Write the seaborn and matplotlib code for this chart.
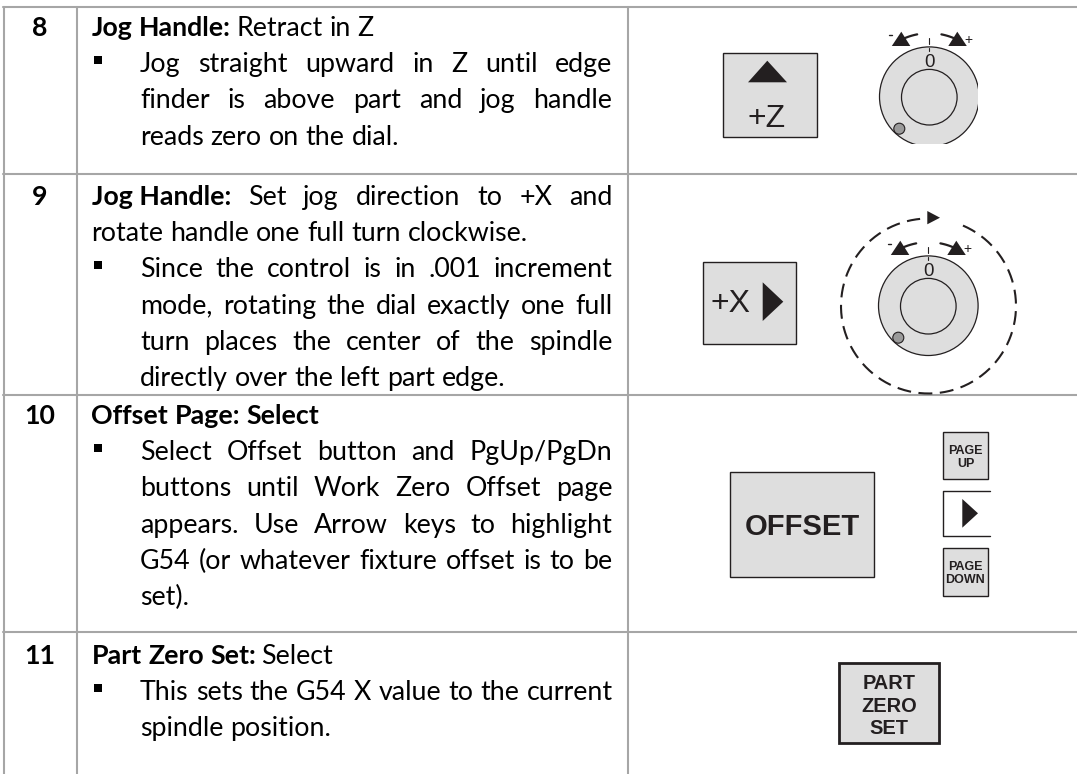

# Step table from a machining setup sheet: text on the left, control panel keys on the right.
import numpy as np
import pandas as pd
import matplotlib
matplotlib.use('Agg')
import matplotlib.pyplot as plt
from matplotlib.patches import Rectangle, Circle, Polygon
import seaborn as sns

# TABLE TEXT:
step_labels = ['8', '9', '10', '11']
heading_bold = ['Jog Handle:', 'Jog Handle:', 'Offset Page: Select', 'Part Zero Set:']
heading_rest = [' Retract in Z', ' Set jog direction to +X and', '', ' Select']
heading_more = [[], ['rotate handle one full turn clockwise.'], [], []]
bullet_lines = [
    ['Jog straight upward in Z until edge', 'finder is above part and jog handle', 'reads zero on the dial.'],
    ['Since the control is in .001 increment', 'mode, rotating the dial exactly one full',
     'turn places the center of the spindle', 'directly over the left part edge.'],
    ['Select Offset button and PgUp/PgDn', 'buttons until Work Zero Offset page',
     'appears. Use Arrow keys to highlight', 'G54 (or whatever fixture offset is to be', 'set).'],
    ['This sets the G54 X value to the current', 'spindle position.'],
]

# layout in pixels of the picture
row_rules = [7, 174, 394.7, 631.7]
col_rules = [3.5, 77, 628]
step_baselines = [36, 205, 424, 664]
line_gap = 36.2
GREY_RULE = '#a6a6a6'
KEY_FILL = '#dedede'
INK = '#231f20'
BODY_SIZE = 19.3

sns.set_theme(style='white')
plt.rcParams['font.family'] = ['Lato', 'DejaVu Sans']
fig = plt.figure(figsize=(10.77, 7.74), dpi=100)
ax = fig.add_axes([0, 0, 1, 1])

# TABLE RULES:
rules = []
for i, y in enumerate(row_rules):
    rules.append(pd.DataFrame({'x': [col_rules[0] - 1, 1077], 'y': [y, y], 'rule': f'h{i}'}))
for i, x in enumerate(col_rules):
    rules.append(pd.DataFrame({'x': [x, x], 'y': [row_rules[0], 774], 'rule': f'v{i}'}))
rules = pd.concat(rules)
sns.lineplot(data=rules, x='x', y='y', units='rule', estimator=None, sort=False,
             color=GREY_RULE, linewidth=1.5, ax=ax, legend=False)
ax.set_xlim(0, 1077)
ax.set_ylim(774, 0)
ax.axis('off')

renderer = fig.canvas.get_renderer()


def text_width(s, weight='normal'):
    t = ax.text(0, 0, s, fontsize=BODY_SIZE, fontweight=weight)
    w = t.get_window_extent(renderer).width
    t.remove()
    return w


def body_line(s, x0, x1, y, weight='normal', justify=True):
    """draw a line word by word, spreading the gaps when it is justified"""
    words = s.split()
    widths = [text_width(w, weight) for w in words]
    if justify and len(words) > 1:
        gap = (x1 - x0 - sum(widths)) / (len(words) - 1)
    else:
        gap = text_width('a a', weight) - text_width('aa', weight)
    x = x0
    for w, ww in zip(words, widths):
        ax.text(x, y, w, fontsize=BODY_SIZE, fontweight=weight, color='black', va='baseline')
        x += ww + gap
    return x - gap


TEXT_LEFT = 91.5
BULLET_LEFT = 140
TEXT_RIGHT = 612.5

for i, label in enumerate(step_labels):
    y = step_baselines[i]
    ax.text(39.5, y, label, fontsize=BODY_SIZE, fontweight='bold', color='black', ha='center', va='baseline')
    if i == 1:
        # bold part and regular part share one justified line
        bw = text_width(heading_bold[i], 'bold')
        ax.text(TEXT_LEFT, y, heading_bold[i], fontsize=BODY_SIZE, fontweight='bold', color='black')
        ax_words = heading_rest[i].split()
        ww = [text_width(w) for w in ax_words]
        gap = (TEXT_RIGHT - TEXT_LEFT - bw - sum(ww)) / len(ax_words)
        x = TEXT_LEFT + bw + gap
        for w, wd in zip(ax_words, ww):
            ax.text(x, y, w, fontsize=BODY_SIZE, color='black')
            x += wd + gap
    else:
        end = body_line(heading_bold[i], TEXT_LEFT, TEXT_RIGHT, y, 'bold', justify=False)
        if heading_rest[i]:
            body_line(heading_rest[i], end + 5.5, TEXT_RIGHT, y, justify=False)
    n = 1
    for s in heading_more[i]:
        body_line(s, TEXT_LEFT, TEXT_RIGHT, y + n * line_gap, justify=False)
        n += 1
    for j, s in enumerate(bullet_lines[i]):
        ly = y + n * line_gap
        last = j == len(bullet_lines[i]) - 1
        if j == 0:
            ax.add_patch(Rectangle((93.5, ly - 16), 8, 8, fc='black', ec='none'))
        body_line(s, BULLET_LEFT, TEXT_RIGHT, ly, justify=not last)
        n += 1


# CONTROL PANEL KEYS:
def key(x0, y0, x1, y1, fill=KEY_FILL, lw=1.0):
    ax.add_patch(Rectangle((x0, y0), x1 - x0, y1 - y0, fc=fill, ec=INK, lw=lw))


def tri(*pts):
    ax.add_patch(Polygon(pts, closed=True, fc=INK, ec='none'))


def key_text(x, y, s, size, weight='normal'):
    ax.text(x, y, s, fontsize=size, fontweight=weight, color=INK, ha='center', va='baseline',
            family='Liberation Sans')


def dial(cx, cy, clip=None):
    clip_box = None
    if clip:
        clip_box = Rectangle((cx - 60, cy - 60), clip[0] - cx + 60, clip[1] - cy + 60, transform=ax.transData)
    parts = [Circle((cx, cy), 49.8, fc=KEY_FILL, ec=INK, lw=0.9),
             Circle((cx, cy + 0.5), 27.8, fc=KEY_FILL, ec=INK, lw=0.9)]
    for p in parts:
        ax.add_patch(p)
        if clip_box is not None:
            p.set_clip_path(clip_box)
    ax.add_patch(Circle((cx - 30, cy + 32), 5.5, fc='#9a9a9a', ec=INK, lw=0.8))
    ax.plot([cx, cx], [cy - 59, cy - 52.5], color=INK, lw=0.8)
    ax.plot([cx, cx], [cy - 49, cy - 46], color=INK, lw=0.8)
    key_text(cx, cy - 30, '0', 13.4)
    # little arrows over the dial
    for sign in (-1, 1):
        t = np.radians(np.linspace(11, 24, 12))
        ax.plot(cx + sign * 63.5 * np.sin(t), cy - 63.5 * np.cos(t), color=INK, lw=1.6)
        tri((cx + sign * 28, cy - 65), (cx + sign * 19, cy - 50.7), (cx + sign * 37.5, cy - 50.7))
    ax.plot([cx - 40, cx - 37], [cy - 62, cy - 62], color=INK, lw=1)
    key_text(cx + 39.5, cy - 52.5, '+', 10)


# row 8
key(722.7, 53.3, 816.7, 137.3)
tri((748, 82.3), (787, 82.3), (767.3, 60.7))
key_text(766.7, 126.7, '+Z', 23)
dial(929.3, 96.7, clip=(977.7, 144.3))

# row 9
key(703.3, 261.7, 796, 344.3)
key_text(730, 311.7, '+X', 23)
tri((762.7, 282.3), (762.7, 321), (783.3, 301.7))
dial(928.3, 305.7)
t = np.radians(np.linspace(-66.8, 264.5, 400))
ax.plot(928.5 + 87.5 * np.cos(t), 306 + 87.5 * np.sin(t), color=INK, lw=1.5,
        linestyle=(0, (6.68, 3.6)))
tri((927.3, 211), (927.3, 224.3), (940, 217.7))

# row 10
key(730.3, 472, 874, 576.7)
key_text(802, 535, 'OFFSET', 21, 'bold')
key(943.3, 432.3, 987.7, 479.3)
key_text(965.7, 454, 'PAGE', 9, 'bold')
key_text(965.7, 467.3, 'UP', 9, 'bold')
ax.plot([990, 943.3, 943.3, 990], [491.3, 491.3, 535.7, 535.7], color=INK, lw=1.0)
tri((962.3, 499), (962.3, 527.7), (978, 513.3))
key(943.3, 547.7, 988, 595.7)
key_text(965.3, 570, 'PAGE', 9, 'bold')
key_text(965.3, 583.3, 'DOWN', 9, 'bold')

# row 11
key(839, 662.7, 939, 742.7, lw=2.0)
key_text(889, 689.3, 'PART', 14.4, 'bold')
key_text(889, 711.7, 'ZERO', 14.4, 'bold')
key_text(889, 734, 'SET', 14.4, 'bold')

fig.savefig('out.png', dpi=100, facecolor='white')
plt.close()
